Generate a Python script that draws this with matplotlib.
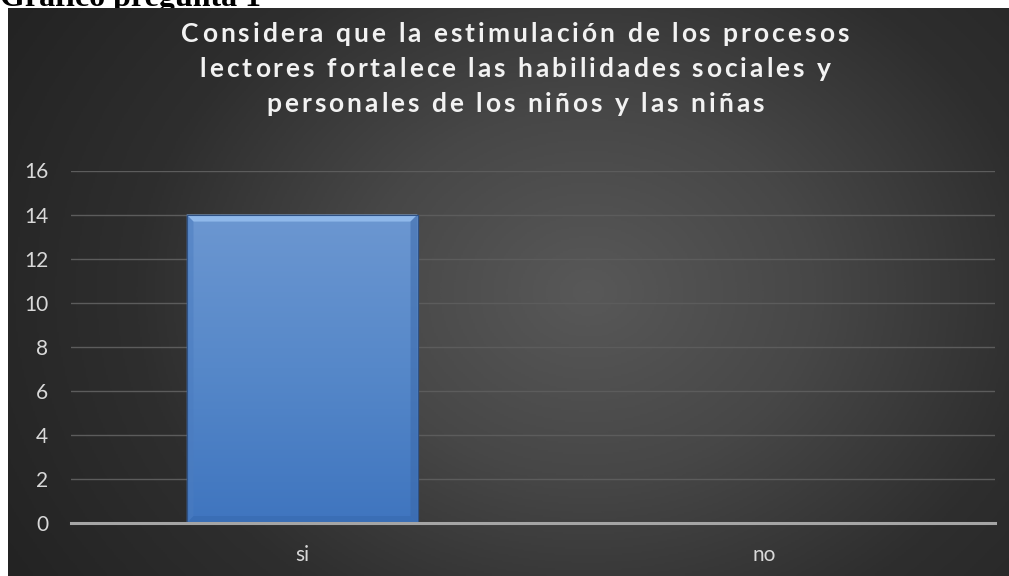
import numpy as np
import matplotlib
matplotlib.use("Agg")
import matplotlib.pyplot as plt
from matplotlib.patches import Polygon
from matplotlib.colors import LinearSegmentedColormap

categories = ["si", "no"]
values = [14, 0]
yticks = [0, 2, 4, 6, 8, 10, 12, 14, 16]
title_lines = ["Considera que la estimulación de los procesos",
               "lectores fortalece las habilidades sociales y",
               "personales de los niños y las niñas"]
heading = "Gráfico pregunta 1"

W, H = 1009, 576
fig = plt.figure(figsize=(W / 100, H / 100), dpi=100)
fig.patch.set_facecolor("white")

# heading, partially hidden behind the chart frame
fig.text(0 / W, 1 - 6 / H, heading, fontsize=23, fontweight="bold",
         family="Liberation Serif", ha="left", va="baseline", color="black",
         zorder=-1)

# background with radial gradient
bg = fig.add_axes([8 / W, 0, 1 - 8 / W, 1 - 8 / H], zorder=-0.5)
bg.set_axis_off()
ny, nx = 300, 520
yy, xx = np.mgrid[0:1:ny * 1j, 0:1:nx * 1j]
cx, cy = 0.58, 0.5
r = np.sqrt(((xx - cx) * 1.0) ** 2 + ((yy - cy) * 0.7) ** 2)
r = r / r.max()
bgcmap = LinearSegmentedColormap.from_list("bg", ["#585858", "#474747", "#2e2e2e", "#232323"])
bg.imshow(r, cmap=bgcmap, aspect="auto", extent=[0, 1, 0, 1], origin="lower",
          interpolation="bilinear")
bg.set_xlim(0, 1)
bg.set_ylim(0, 1)

# main axes
ax = fig.add_axes([71 / W, (H - 523) / H, (995 - 71) / W, (523 - 170.5) / H], zorder=0)
ax.set_facecolor("none")
x = np.arange(len(categories))
bars = ax.bar(x, values, width=0.5, color="#5b8bcc", edgecolor="#3a5f94",
              linewidth=0.8, zorder=3)
ax.set_xlim(-0.5, len(categories) - 0.5)
ax.set_ylim(0, 16)
ax.set_yticks(yticks)
ax.set_xticks(x)
ax.set_xticklabels(categories)
ax.grid(axis="y", color="#5c5c5c", linewidth=1.0, zorder=0)
ax.set_axisbelow(True)
for s in ["top", "right", "left"]:
    ax.spines[s].set_visible(False)
ax.spines["bottom"].set_color("#a5a5a5")
ax.spines["bottom"].set_linewidth(2.2)
ax.spines["bottom"].set_zorder(4)
ax.tick_params(axis="both", length=0, labelsize=15, labelcolor="#d9d9d9")
ax.tick_params(axis="y", pad=16.5)
ax.tick_params(axis="x", pad=16)
for lab in ax.get_xticklabels() + ax.get_yticklabels():
    lab.set_family("Lato")

# gradient fill + bevel on bars
grad = np.linspace(0, 1, 256).reshape(-1, 1)
barcmap = LinearSegmentedColormap.from_list("bar", ["#3f75bf", "#5688c9", "#6c97d1"])
fig.canvas.draw()
inv = ax.transData.inverted()
for b in bars:
    if b.get_height() <= 0:
        continue
    x0, y0 = b.get_x(), b.get_y()
    w, h = b.get_width(), b.get_height()
    im = ax.imshow(grad, cmap=barcmap, aspect="auto", origin="lower",
                   extent=[x0, x0 + w, y0, y0 + h], zorder=3.1, interpolation="bilinear")
    im.set_clip_path(b)
    p0 = inv.transform((0, 0))
    p1 = inv.transform((7, 7))
    dx, dy = p1[0] - p0[0], p1[1] - p0[1]
    top = Polygon([[x0, y0 + h], [x0 + w, y0 + h], [x0 + w - dx, y0 + h - dy], [x0 + dx, y0 + h - dy]],
                  closed=True, facecolor="#8fb8ea", edgecolor="none", zorder=3.2)
    left = Polygon([[x0, y0], [x0, y0 + h], [x0 + dx, y0 + h - dy], [x0 + dx, y0 + dy]],
                   closed=True, facecolor="#4b7cc0", alpha=0.5, edgecolor="none", zorder=3.2)
    right = Polygon([[x0 + w, y0], [x0 + w, y0 + h], [x0 + w - dx, y0 + h - dy], [x0 + w - dx, y0 + dy]],
                    closed=True, facecolor="#3a67a8", alpha=0.5, edgecolor="none", zorder=3.2)
    bottom = Polygon([[x0, y0], [x0 + w, y0], [x0 + w - dx, y0 + dy], [x0 + dx, y0 + dy]],
                     closed=True, facecolor="#3669ad", alpha=0.5, edgecolor="none", zorder=3.2)
    for p in (top, left, right, bottom):
        ax.add_patch(p)
    ax.add_patch(plt.Rectangle((x0, y0), w, h, facecolor="none", edgecolor="#2f5286",
                               linewidth=0.8, zorder=3.3))

# title with letter spacing
renderer = fig.canvas.get_renderer()
title_kw = dict(fontsize=19, fontweight="bold", family="Lato", color="#f2f2f2")
spacing = 3.0  # px
baselines = [42, 77, 112]
cx_pix = 515
for line, base in zip(title_lines, baselines):
    widths = []
    for ch in line:
        if ch == " ":
            t1 = fig.text(0, 0, "a a", **title_kw)
            t2 = fig.text(0, 0, "aa", **title_kw)
            widths.append(t1.get_window_extent(renderer).width - t2.get_window_extent(renderer).width)
            t1.remove()
            t2.remove()
        else:
            t = fig.text(0, 0, ch, **title_kw)
            widths.append(t.get_window_extent(renderer).width)
            t.remove()
    total = sum(widths) + spacing * (len(line) - 1)
    xpos = cx_pix - total / 2
    for ch, wch in zip(line, widths):
        if ch != " ":
            fig.text(xpos / W, 1 - base / H, ch, ha="left", va="baseline", **title_kw)
        xpos += wch + spacing

fig.savefig("out.png", dpi=100)
